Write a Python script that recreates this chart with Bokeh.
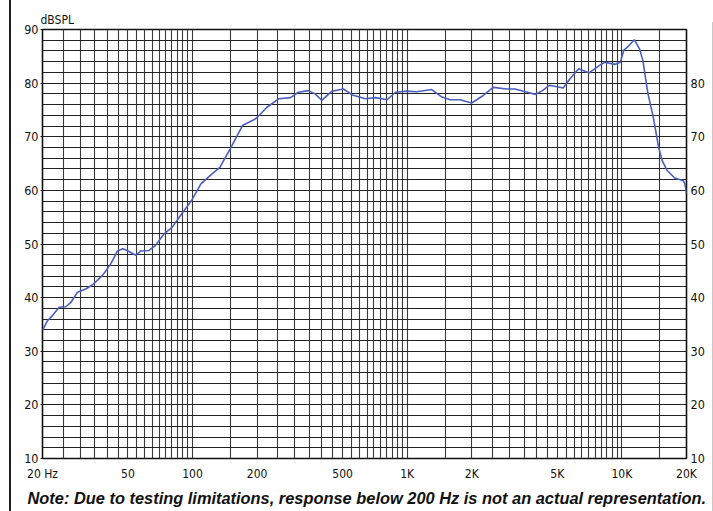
from bokeh.plotting import figure
from bokeh.models import FixedTicker, LinearAxis, Range1d, Div
from bokeh.layouts import row
from bokeh.embed import file_html
from bokeh.resources import INLINE

# Frequency response (Hz, dB SPL)
freq = [20, 21.1, 22.3, 23.9, 25.7, 27.1, 29.1, 31.8, 34.2, 38.0, 41.6, 44.7,
        47.3, 49.6, 54.4, 57.4, 62.7, 67.1, 73.7, 80.3, 87.9, 98.9, 109.4, 121,
        134, 150, 171, 194, 200, 222, 253, 286, 311, 346, 372, 400, 446, 505,
        555, 640, 711, 806, 882, 997, 1106, 1300, 1451, 1586, 1762, 1996, 2262,
        2517, 2904, 3179, 3483, 3961, 4265, 4590, 5327, 5729, 6291, 7034, 7867,
        8316, 9302, 9835, 10200, 10800, 11420, 12080, 12530, 13230, 14010,
        14820, 15390, 16260, 17620, 19300, 19650, 20000]
spl = [33.9, 35.7, 36.7, 38.2, 38.3, 39.1, 41.0, 41.6, 42.4, 44.1, 46.3, 48.7,
       49.1, 48.8, 47.9, 48.7, 48.8, 49.7, 51.9, 53.1, 55.3, 58.1, 61.2, 62.8,
       64.3, 67.8, 72.1, 73.2, 73.6, 75.5, 77.1, 77.3, 78.3, 78.6, 78.0, 76.8,
       78.5, 78.9, 77.8, 77.1, 77.3, 76.9, 78.3, 78.5, 78.4, 78.8, 77.4, 76.9,
       76.9, 76.3, 77.7, 79.2, 78.9, 78.9, 78.5, 77.9, 78.6, 79.6, 79.1, 80.8,
       82.7, 81.9, 83.3, 83.9, 83.5, 83.9, 86.1, 87.0, 88.1, 86.4, 84.2, 78.0,
       73.6, 68.1, 65.6, 63.7, 62.3, 61.8, 61.2, 59.5]

x_ticks = [20, 50, 100, 200, 500, 1000, 2000, 5000, 10000, 20000]
x_tick_labels = ["20 Hz", "50", "100", "200", "500", "1K", "2K", "5K", "10K", "20K"]
y_ticks_left = [10, 20, 30, 40, 50, 60, 70, 80, 90]
y_ticks_right = [10, 20, 30, 40, 50, 60, 70, 80]

# grid positions
x_grid = (list(range(20, 101, 5)) + list(range(150, 1001, 50)) +
          list(range(1500, 10001, 500)) + [15000, 20000])
y_grid = list(range(10, 91, 2))

note = "\u00a0\u00a0Note:  Due to testing limitations, response below 200 Hz is not an actual representation."

FONT = "DejaVu Sans Condensed"
INK = "#111111"

# narrow strips carrying the page's frame edges
bar = Div(text="", width=12, height=511, margin=(0, 0, 0, 0),
          styles={"background": "linear-gradient(to right, #ffffff 0px, #ffffff 9px, "
                                "#1e1e1e 9px, #1e1e1e 11.5px, #ffffff 11.5px)",
                  "padding": "0px"})
edge = Div(text="", width=1, height=511, margin=(0, 0, 0, 0),
           styles={"background": "linear-gradient(to bottom, #ffffff 0px, #ffffff 22px, "
                                 "#c8c8c8 22px, #c8c8c8 511px)",
                   "padding": "0px"})

p = figure(width=700, height=511, x_axis_type="log",
           x_range=Range1d(20, 20000), y_range=Range1d(10, 90),
           output_backend="svg", toolbar_location=None,
           min_border_left=30, min_border_right=26,
           min_border_top=29, min_border_bottom=53)

p.background_fill_color = "white"
p.outline_line_color = INK
p.outline_line_width = 1.6

p.xgrid.ticker = FixedTicker(ticks=x_grid)
p.ygrid.ticker = FixedTicker(ticks=y_grid)
p.xgrid.grid_line_color = "#3a3a3a"
p.xgrid.grid_line_width = 1.1
p.ygrid.grid_line_color = "#222222"
p.ygrid.grid_line_width = 1.2

# title "dBSPL" above the frame, left
p.title.text = "dBSPL"
p.title.align = "left"
p.title.offset = -2
p.title.standoff = 5
p.title.text_font = FONT
p.title.text_font_style = "normal"
p.title.text_font_size = "12px"
p.title.text_color = INK

# bottom axis (note carried as its axis label)
xa = p.xaxis[0]
xa.ticker = FixedTicker(ticks=x_ticks)
xa.major_label_overrides = {t: l for t, l in zip(x_ticks, x_tick_labels)}
xa.axis_line_color = None
xa.major_tick_line_color = None
xa.major_tick_out = 0
xa.major_tick_in = 0
xa.minor_tick_line_color = None
xa.minor_tick_out = 0
xa.major_label_standoff = 8
xa.major_label_text_font = FONT
xa.major_label_text_font_size = "12px"
xa.major_label_text_color = INK
xa.axis_label = note
xa.axis_label_standoff = 5
xa.axis_label_text_font = "Liberation Sans"
xa.axis_label_text_font_style = "bold italic"
xa.axis_label_text_font_size = "16.4px"
xa.axis_label_text_color = INK

# left axis
ya = p.yaxis[0]
ya.ticker = FixedTicker(ticks=y_ticks_left)
ya.axis_line_color = None
ya.major_tick_line_color = INK
ya.major_tick_out = 2
ya.major_tick_in = 0
ya.minor_tick_line_color = None
ya.minor_tick_out = 0
ya.major_label_standoff = 2
ya.major_label_text_font = FONT
ya.major_label_text_font_size = "12.5px"
ya.major_label_text_color = INK

# right axis
ra = LinearAxis(ticker=FixedTicker(ticks=y_ticks_right))
ra.axis_line_color = None
ra.major_tick_line_color = None
ra.major_tick_out = 0
ra.major_tick_in = 0
ra.minor_tick_line_color = None
ra.minor_tick_out = 0
ra.major_label_standoff = 4
ra.major_label_text_font = FONT
ra.major_label_text_font_size = "12.5px"
ra.major_label_text_color = INK
p.add_layout(ra, "right")

p.line(freq, spl, line_color="#4a5fc0", line_width=1.6)

layout = row(bar, p, edge, spacing=0)
open("out.html", "w").write(file_html(layout, INLINE))
